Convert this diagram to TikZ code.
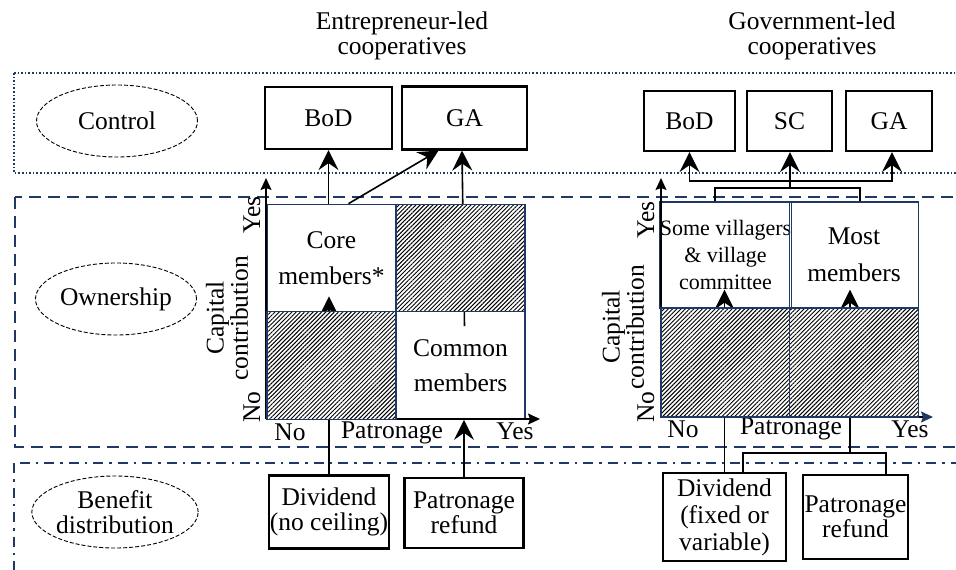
\documentclass[tikz,border=0pt]{standalone}
\usepackage{fontspec}
\setmainfont{Liberation Serif}
\usetikzlibrary{arrows.meta,patterns.meta,shapes.geometric}

\definecolor{navy}{RGB}{31,56,100}

\tikzset{
  zone/.style={draw=navy, line width=2pt},
  aspect/.style={ellipse, draw, dash pattern=on 4pt off 2pt, line width=0.9pt,
    minimum width=161pt, minimum height=72pt, align=center, inner sep=0pt},
  box/.style={draw, line width=2.2pt, inner sep=0pt, align=center},
  cell/.style={draw=navy, line width=1.2pt, minimum width=129pt, minimum height=107.5pt,
    inner sep=0pt, align=center},
  hatch/.style={preaction={fill=white}, pattern={Lines[angle=45,distance=3pt,line width=0.95pt]}},
  conn/.style={line width=1.6pt, -{Stealth[length=20pt,width=20pt,inset=7pt]}},
  link/.style={line width=1.6pt},
  axis/.style={line width=1.6pt, -{Stealth[length=12pt,width=11pt,inset=2pt]}}
}

\begin{document}
\begin{tikzpicture}[x=1pt, y=-1pt, font=\fontsize{25.5}{25}\selectfont]
    \useasboundingbox (0,0) rectangle (956,570);
    \clip (0,0) rectangle (956,570);

    % the three layers
    \draw[zone, dash pattern=on 1.6pt off 2pt] (14,73) rectangle (975,173);
    \draw[zone, line width=2.2pt, dash pattern=on 12pt off 7pt] (15,197) rectangle (975,447);
    \draw[zone, dash pattern=on 10pt off 6pt on 2.5pt off 6pt] (14,463) rectangle (975,600);

    \node[align=center] (title1) at (402,36) {Entrepreneur-led\\cooperatives};
    \node[align=center] (title2) at (812,36) {Government-led\\cooperatives};

    \node[aspect] (control) at (117,121) {Control};
    \node[aspect] (ownership) at (116,299) {Ownership};
    \node[aspect] (benefit) at (115,512) {Benefit\\distribution};

    % control boxes
    \node[box, minimum width=127pt, minimum height=62pt] (bod1) at (328.5,118) {BoD};
    \node[box, minimum width=125pt, minimum height=63pt] (ga1) at (464.5,118) {GA};
    \node[box, minimum width=91pt, minimum height=60pt] (bod2) at (689.5,121) {BoD};
    \node[box, minimum width=85pt, minimum height=60pt] (sc2) at (789.5,121) {SC};
    \node[box, minimum width=86pt, minimum height=60pt] (ga2) at (889,121) {GA};

    % benefit boxes
    \node[box, minimum width=120pt, minimum height=73pt] (div1) at (329,512) {Dividend\\(no ceiling)};
    \node[box, minimum width=119pt, minimum height=70pt] (ref1) at (464,513) {Patronage\\refund};
    \node[box, minimum width=123pt, minimum height=88pt, font=\fontsize{25.5}{27}\selectfont]
        (div2) at (724.5,517) {Dividend\\(fixed or\\variable)};
    \node[box, minimum width=105pt, minimum height=84pt] (ref2) at (855.5,517) {Patronage\\refund};

    % ownership grids, open cells first
    \node[cell, font=\fontsize{25.5}{36}\selectfont] (core) at (331.5,258) {Core\\members*};
    \node[cell, font=\fontsize{25.5}{35}\selectfont] (common) at (460.5,365.5) {Common\\members};
    \node[cell, minimum height=106pt, font=\fontsize{22}{27}\selectfont] (villagers) at (725.5,255) {Some villagers\\\& village\\committee};
    \node[cell, minimum height=106pt, font=\fontsize{25.5}{37}\selectfont] (most) at (854,255) {Most\\members};

    % axes
    \coordinate (o1) at (266,419);
    \coordinate (o2) at (661,417);
    \draw[axis] (o1) -- (266,178);
    \draw[axis] (o1) -- (540,419);
    \draw[axis] (o2) -- (661,178);
    \draw[line width=1.6pt, -{Stealth[length=12pt,width=11pt,inset=2pt,navy]}] (o2) -- (933,417);

    \node[rotate=90] (yes1) at (252,215) {Yes};
    \node[rotate=90] (no1) at (252,407) {No};
    \node[rotate=90, align=center, font=\fontsize{25.5}{21}\selectfont] (cap1) at (227,318) {Capital\\contribution};
    \node (nox1) at (290,432) {No};
    \node (pat1) at (392,433) {Patronage};
    \node (yesx1) at (515,431) {Yes};

    \node[rotate=90] (yes2) at (646,220) {Yes};
    \node[rotate=90] (no2) at (646,407) {No};
    \node[rotate=90, align=center, font=\fontsize{25.5}{21}\selectfont] (cap2) at (623,327) {Capital\\contribution};
    \node (nox2) at (683,429) {No};
    \node (pat2) at (791,429) {Patronage};
    \node (yesx2) at (910,429) {Yes};

    % connectors, left
    \draw[conn] (bod1.south |- core.north) -- (bod1.south);
    \draw[conn] ([xshift=17pt]core.north) -- ([xshift=-26pt]ga1.south);
    \draw[conn] ([yshift=-15pt]ga1.south |- common.north) -- ([xshift=-2.5pt]ga1.south);
    \draw[conn] (div1.north) -- ([yshift=16pt]div1.north |- core.south);
    \draw[conn] (ref1.north) -- (ref1.north |- common.south);

    % connectors, right
    \coordinate (jt) at (790,188);
    \coordinate (jm) at (790,181);
    \coordinate (jb) at (850,453);
    \draw[link] ([xshift=-10.5pt]villagers.north) |- (jt) -| ([xshift=6pt]most.north);
    \draw[conn] (jt) -- (jt |- sc2.south);
    \draw[link, {Stealth[length=20pt,width=20pt,inset=7pt]}-{Stealth[length=20pt,width=20pt,inset=7pt]}]
        (bod2.south) |- (jm) -| ([xshift=3pt]ga2.south);
    \draw[conn] (div2.north) -- ([yshift=19pt]div2.north |- villagers.south);
    \draw[link] ([xshift=18.5pt]div2.north) |- (jb) -| ([xshift=30.5pt]ref2.north);
    \draw[conn] (jb) -- ([yshift=19pt]jb |- most.south);

    % hatched cells on top
    \node[cell, hatch] (top1) at (460.5,258) {};
    \node[cell, hatch] (low1) at (331.5,365.5) {};
    \node[cell, hatch, minimum height=109pt] (low2) at (725.5,362.5) {};
    \node[cell, hatch, minimum height=109pt] (low3) at (854,362.5) {};
\end{tikzpicture}
\end{document}
